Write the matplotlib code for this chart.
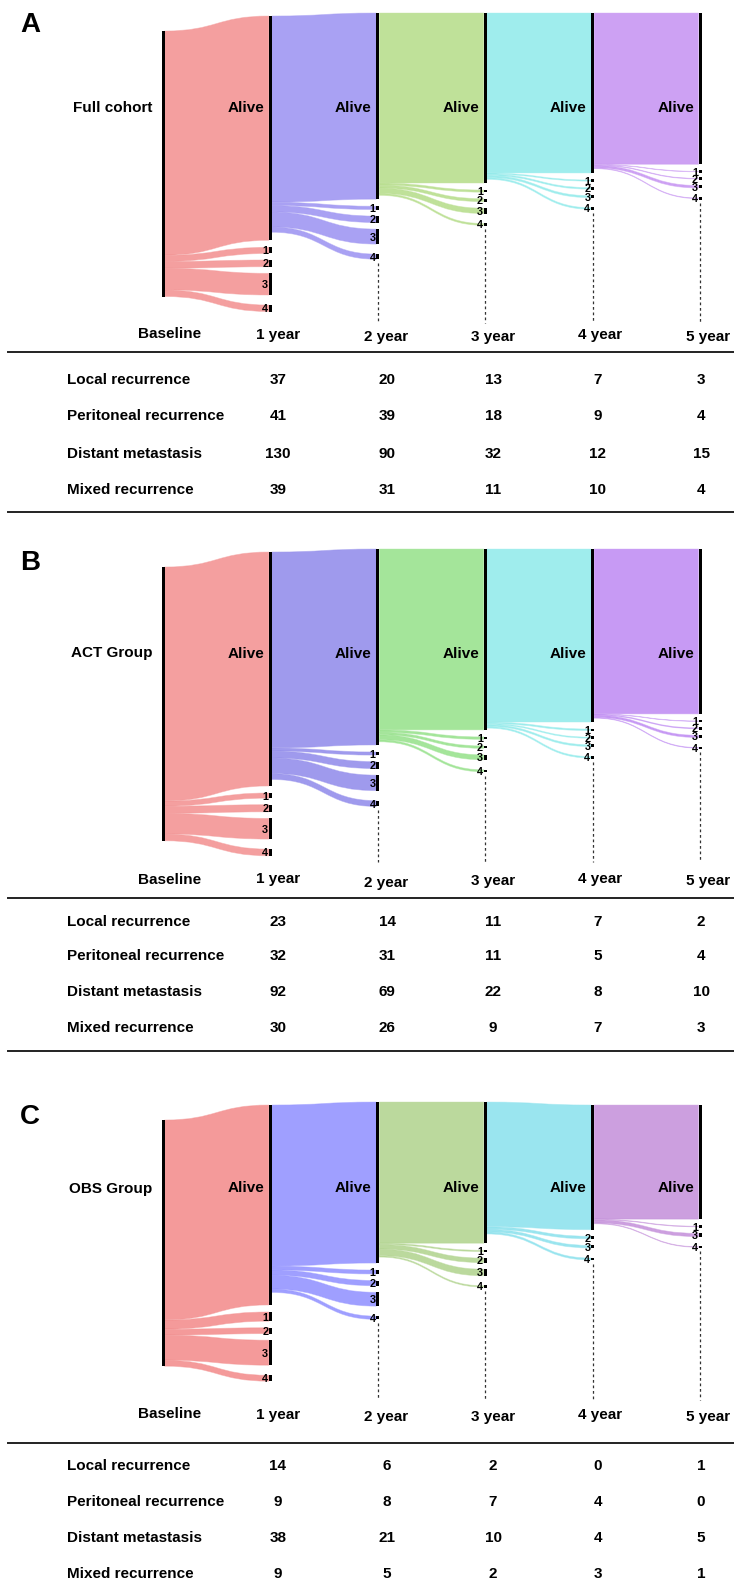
import matplotlib
matplotlib.use('Agg')
import matplotlib.pyplot as plt
from matplotlib.path import Path
from matplotlib.patches import PathPatch, Rectangle
from matplotlib.colors import to_rgb
import numpy as np

plt.rcParams['font.family'] = ['Liberation Sans', 'DejaVu Sans']
plt.rcParams['font.weight'] = 'bold'

# ---------------- data ----------------
years = ['Baseline', '1 year', '2 year', '3 year', '4 year', '5 year']
recurrence_types = ['Local recurrence', 'Peritoneal recurrence',
                    'Distant metastasis', 'Mixed recurrence']
node_labels = ['1', '2', '3', '4']
group_names = ['Full cohort', 'ACT Group', 'OBS Group']
panel_letters = ['A', 'B', 'C']

# new recurrences per year (1..5 year)
full_local = [37, 20, 13, 7, 3]
full_perit = [41, 39, 18, 9, 4]
full_distant = [130, 90, 32, 12, 15]
full_mixed = [39, 31, 11, 10, 4]

act_local = [23, 14, 11, 7, 2]
act_perit = [32, 31, 11, 5, 4]
act_distant = [92, 69, 22, 8, 10]
act_mixed = [30, 26, 9, 7, 3]

obs_local = [14, 6, 2, 0, 1]
obs_perit = [9, 8, 7, 4, 0]
obs_distant = [38, 21, 10, 4, 5]
obs_mixed = [9, 5, 2, 3, 1]

# patients alive without recurrence at each year (estimated from flow heights)
full_alive = [1343, 1115, 1018, 958, 906]
act_alive = [1040, 871, 804, 769, 733]
obs_alive = [303, 244, 214, 189, 173]

# flow colours (as seen on white) for flows leaving baseline, 1y, 2y, 3y, 4y
full_colors = ['#F5A0A0', '#AAA2F4', '#C0E29A', '#A0EEEE', '#CEA2F4']
act_colors = ['#F5A0A0', '#A09BEE', '#A5E69B', '#A0EEEE', '#C89BF5']
obs_colors = ['#F59B9B', '#A0A0FF', '#BCDA9E', '#9BE6F0', '#CDA0E0']

# ---------------- layout ----------------
W, H = 734, 1592
COL0, COLSTEP = 163.0, 107.4
BAR_W = 3.0
GAPS = [7.0, 6.5, 6.5, 10.0]
HEAD_DY = [0, 0, 3, 2, 0, 2]
HEAD_X = [170, 278, 386, 493, 600, 708]
VAL_X = [278, 387, 493, 598, 701]
ROW_X = 67

panels = [
    dict(letter=panel_letters[0], name=group_names[0], alive=full_alive,
         rec=[full_local, full_perit, full_distant, full_mixed], colors=full_colors,
         top=13, scale=0.167, offs=[3, 0, 0, 0, 0], label_y=106, dot_bottom=323,
         region=(0, 345), letter_y=22, head_y=333, line_top=352,
         rows=[379, 415, 452, 488], line_bottom=512),
    dict(letter=panel_letters[1], name=group_names[1], alive=act_alive,
         rec=[act_local, act_perit, act_distant, act_mixed], colors=act_colors,
         top=549, scale=0.225, offs=[3, 0, 0, 0, 0], label_y=652, dot_bottom=862,
         region=(530, 885), letter_y=560, head_y=878, line_top=897.5,
         rows=[920, 955, 991, 1027], line_bottom=1051),
    dict(letter=panel_letters[2], name=group_names[2], alive=obs_alive,
         rec=[obs_local, obs_perit, obs_distant, obs_mixed], colors=obs_colors,
         top=1102, scale=0.66, offs=[3, 0, 0, 3, 3], label_y=1187, dot_bottom=1400,
         region=(1075, 1430), letter_y=1114, head_y=1413, line_top=1443,
         rows=[1464, 1500, 1537, 1573], line_bottom=None),
]

fig = plt.figure(figsize=(W / 100, H / 100), dpi=100)


def flow_color(hexc):
    obs = np.array(to_rgb(hexc))
    base = np.clip(2 * obs - 1, 0, 1)
    return (base[0], base[1], base[2], 0.5)


def band(ax, x0, x1, y0a, y0b, y1a, y1b, fc):
    xm = (x0 + x1) / 2
    verts = [(x0, y0a), (xm, y0a), (xm, y1a), (x1, y1a), (x1, y1b),
             (xm, y1b), (xm, y0b), (x0, y0b), (x0, y0a)]
    codes = [Path.MOVETO, Path.CURVE4, Path.CURVE4, Path.CURVE4, Path.LINETO,
             Path.CURVE4, Path.CURVE4, Path.CURVE4, Path.CLOSEPOLY]
    ax.add_patch(PathPatch(Path(verts, codes), facecolor=fc,
                           edgecolor=(1, 1, 1, 0.6), lw=0.3, zorder=1))
    # thin outline in the flow colour keeps very small flows visible
    ax.add_patch(PathPatch(Path(verts, codes), facecolor='none',
                           edgecolor=(fc[0], fc[1], fc[2], 0.25), lw=0.5, zorder=1))


for P in panels:
    s = P['scale']
    top = P['top']
    r0, r1 = P['region']
    ax = fig.add_axes([0, 1 - r1 / H, 1, (r1 - r0) / H])
    ax.set_xlim(-COL0 / COLSTEP, (W - COL0) / COLSTEP)
    ax.set_ylim((r1 - top) / s, (r0 - top) / s)
    ax.axis('off')
    dx = 1.0 / COLSTEP      # one pixel in x data units
    dy = 1.0 / s            # one pixel in y data units

    alive = P['alive']
    rec = np.array(P['rec'])   # shape (4, 5)

    # node layout for columns 1..5
    cols = {}
    for k in range(1, 6):
        y = P['offs'][k - 1] * dy
        nodes = {'alive': (y, y + alive[k - 1])}
        yb = y + alive[k - 1]
        for j in range(4):
            v = rec[j, k - 1]
            if v == 0:
                continue
            t = yb + GAPS[j] * dy
            nodes[j] = (t, t + v)
            yb = t + v
        cols[k] = nodes
    # baseline centred on year-1 column
    c1_top = cols[1]['alive'][0]
    c1_bot = max(v[1] for v in cols[1].values())
    base_h = alive[0] + rec[:, 0].sum()
    base_top = (c1_top + c1_bot) / 2 - base_h / 2
    cols[0] = {'alive': (base_top, base_top + base_h)}

    # flows
    for k in range(0, 5):
        fc = flow_color(P['colors'][k])
        x0 = k + BAR_W / 2 * dx
        x1 = k + 1 - BAR_W / 2 * dx
        y = cols[k]['alive'][0]
        t1 = cols[k + 1]['alive'][0]
        v = alive[k]
        band(ax, x0, x1, y, y + v, t1, t1 + v, fc)
        y += v
        for j in range(4):
            v = rec[j, k]
            if v == 0:
                continue
            t1 = cols[k + 1][j][0]
            band(ax, x0, x1, y, y + v, t1, t1 + v, fc)
            y += v

    # node bars and labels
    for k in range(0, 6):
        for key, (t, b) in cols[k].items():
            if key != 'alive':
                hmin = 2.5 * dy
                if b - t < hmin:
                    c = (t + b) / 2
                    t, b = c - hmin / 2, c + hmin / 2
            ax.add_patch(Rectangle((k - BAR_W / 2 * dx, t), BAR_W * dx, b - t,
                                   facecolor='black', edgecolor='none', zorder=3))
            if key != 'alive':
                ax.text(k - 2.2 * dx, (t + b) / 2, node_labels[key], ha='right',
                        va='center_baseline', fontsize=7.8, fontweight='bold',
                        zorder=4)
        if k >= 2:
            last = max(v[1] for v in cols[k].values())
            ax.plot([k, k], [last + 4 * dy, (P['dot_bottom'] - top) * dy],
                    color='#333333', lw=0.9, ls=(0, (2.2, 2.2)), zorder=2)
        if k >= 1:
            ax.text(k - 6 * dx, (P['label_y'] - top) * dy, 'Alive', ha='right',
                    va='center_baseline', fontsize=11, fontweight='bold', zorder=4)
    ax.text(-11 * dx, (P['label_y'] - top) * dy, P['name'], ha='right',
            va='center_baseline', fontsize=11, fontweight='bold', zorder=4)

# overlay for panel letters, headers and the tables
ov = fig.add_axes([0, 0, 1, 1])
ov.set_xlim(0, W)
ov.set_ylim(H, 0)
ov.axis('off')
for P in panels:
    ov.text(20, P['letter_y'], P['letter'], ha='left', va='center_baseline',
            fontsize=20, fontweight='bold')
    for i, lab in enumerate(years):
        ov.text(HEAD_X[i], P['head_y'] + HEAD_DY[i], lab, ha='center',
                va='center_baseline', fontsize=11, fontweight='bold')
    ov.plot([8, W], [P['line_top']] * 2, color='#222222', lw=1.4)
    if P['line_bottom'] is not None:
        ov.plot([8, W], [P['line_bottom']] * 2, color='#222222', lw=1.4)
    for r, rname in enumerate(recurrence_types):
        yy = P['rows'][r]
        ov.text(ROW_X, yy, rname, ha='left', va='center_baseline',
                fontsize=11, fontweight='bold')
        for c in range(5):
            ov.text(VAL_X[c], yy, str(P['rec'][r][c]), ha='center',
                    va='center_baseline', fontsize=11, fontweight='bold')

fig.savefig('out.png', dpi=100)
